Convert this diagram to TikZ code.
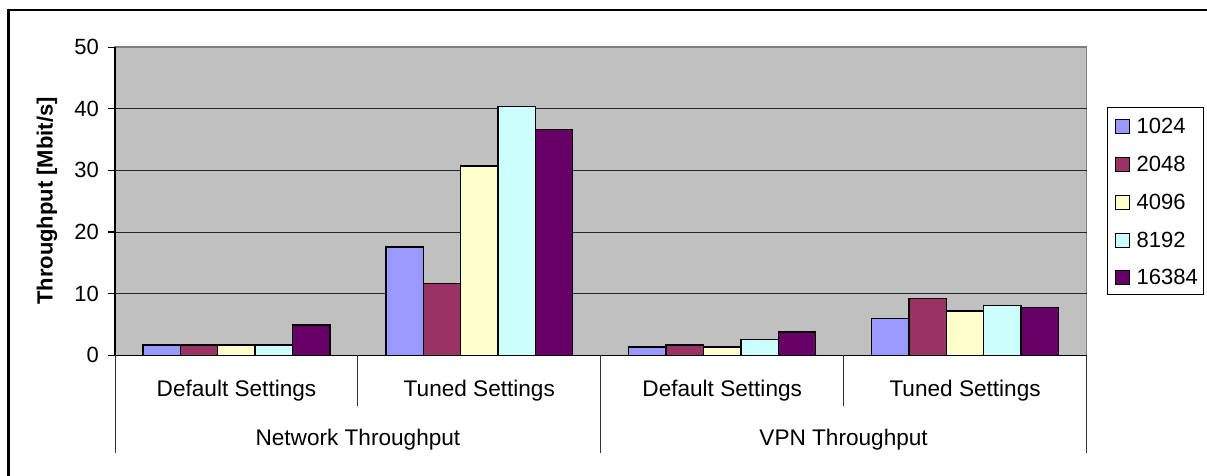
\documentclass[tikz,border=0pt]{standalone}
\usepackage{fontspec}
\setmainfont{Liberation Sans}
\definecolor{plotbg}{HTML}{C0C0C0}
\definecolor{plotedge}{HTML}{808080}
\definecolor{serA}{HTML}{9999FF}
\definecolor{serB}{HTML}{993366}
\definecolor{serC}{HTML}{FFFFCC}
\definecolor{serD}{HTML}{CCFFFF}
\definecolor{serE}{HTML}{660066}
\tikzset{
  bar/.style={draw=black, line width=1.4pt},
  grid line/.style={draw=black!85, line width=0.9pt},
  sep line/.style={draw=black!80, line width=0.9pt},
  ticklabel/.style={anchor=east, inner sep=0pt},
  catlabel/.style={anchor=base, inner sep=0pt, font=\fontsize{22.6}{26}\selectfont},
  legendtext/.style={anchor=base west, inner sep=0pt},
  legendkey/.style={draw=black, line width=0.9pt}
}
% value axis: 0 at y=355.3, 6.165 units per Mbit/s
\newcommand{\yval}[1]{355.3-6.165*(#1)}
\begin{document}
\begin{tikzpicture}[x=1pt, y=-1pt, font=\fontsize{22}{26}\selectfont]
\useasboundingbox (0,0) rectangle (1207,475);
\clip (0,0) rectangle (1207,475);

% outer chart frame
\draw[line width=2.6pt] (8.5,10) rectangle (1240,510);

% plot area and gridlines
\draw[fill=plotbg, draw=plotedge, line width=1.2pt] (115,47) rectangle (1086.5,355.3);
\foreach \v in {10,20,30,40}
  \draw[grid line] (115,{\yval{\v}}) -- (1086.5,{\yval{\v}});

% bars: group index, then the five series values
\foreach \g/\a/\b/\c/\d/\e in {0/1.7/1.7/1.7/1.7/4.9,
                               1/17.6/11.6/30.7/40.4/36.6,
                               2/1.35/1.7/1.35/2.6/3.8,
                               3/6.0/9.2/7.2/8.05/7.8} {
  \pgfmathsetmacro{\gx}{115+\g*242.875+28}
  \foreach \j/\v/\col in {0/\a/serA,1/\b/serB,2/\c/serC,3/\d/serD,4/\e/serE} {
    \draw[bar, fill=\col] ({\gx+\j*37.36},355.3) rectangle ({\gx+(\j+1)*37.36},{\yval{\v}});
  }
}

% value axis with ticks and labels
\draw[line width=1.1pt] (115,47) -- (115,355.3);
\foreach \v in {0,10,20,30,40,50} {
  \draw[line width=1.1pt] (108,{\yval{\v}}) -- (115,{\yval{\v}});
  \node[ticklabel] (tick\v) at (99,{\yval{\v}}) {\v};
}
\node[rotate=90, font=\fontsize{22}{26}\selectfont\bfseries] (ylabel) at (47,201) {Throughput [Mbit/s]};

% category axis and its two label levels
\draw[line width=1.1pt] (115,355.3) -- (1086.5,355.3);
\foreach \x in {115,600.75,1086.5}
  \draw[sep line] (\x,355.3) -- (\x,453);
\foreach \x in {357.9,843.6}
  \draw[sep line] (\x,355.3) -- (\x,406);
\node[catlabel] (netdef) at (236.5,396.7) {Default Settings};
\node[catlabel] (nettun) at (479.3,396.7) {Tuned Settings};
\node[catlabel] (vpndef) at (722.2,396.7) {Default Settings};
\node[catlabel] (vpntun) at (965.1,396.7) {Tuned Settings};
\node[catlabel] (netgrp) at (357.9,445) {Network Throughput};
\node[catlabel] (vpngrp) at (843.6,445) {VPN Throughput};

% legend
\draw[fill=white, line width=0.9pt] (1107,107) rectangle (1203,294);
\foreach \i/\lab/\col in {0/1024/serA,1/2048/serB,2/4096/serC,3/8192/serD,4/16384/serE} {
  \pgfmathsetmacro{\by}{133.3+\i*37.9}
  \draw[legendkey, fill=\col] (1115.5,\by) rectangle (1129.5,\by-14);
  \node[legendtext] (leg\i) at (1136.5,\by) {\lab};
}
\end{tikzpicture}
\end{document}
